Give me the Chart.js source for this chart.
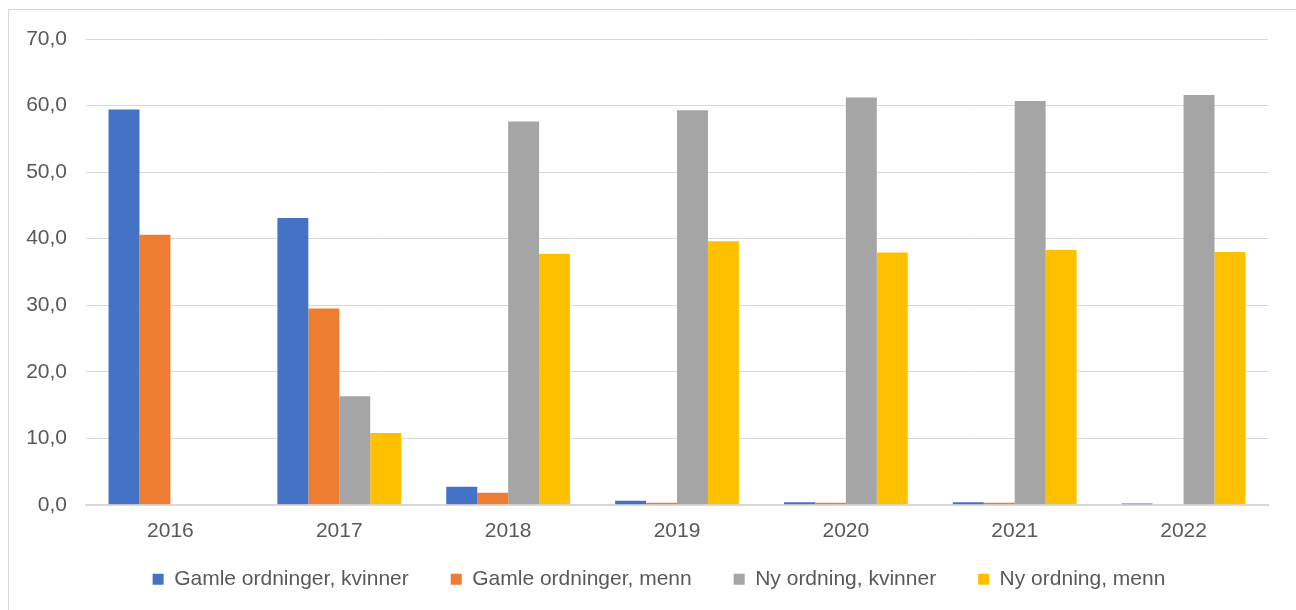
<!DOCTYPE html>
<html>
<head>
<meta charset="utf-8">
<script src="https://cdn.jsdelivr.net/npm/chart.js@4/dist/chart.umd.min.js"></script>
<style>
  html, body { margin: 0; padding: 0; background: #fff; overflow: hidden; }
  #wrap {
    position: absolute; left: 8px; top: 9px;
    width: 1330px; height: 624px;
    border-left: 1px solid #d9d9d9; border-top: 1px solid #d9d9d9;
  }
</style>
</head>
<body>
<div id="wrap"><canvas id="chart"></canvas></div>
<script>
const years = ["2016", "2017", "2018", "2019", "2020", "2021", "2022"];
const gamleKvinner = [59.4, 43.1, 2.7, 0.6, 0.4, 0.4, 0.2];
const gamleMenn = [40.6, 29.5, 1.8, 0.3, 0.3, 0.3, 0.0];
const nyKvinner = [0.0, 16.3, 57.6, 59.3, 61.2, 60.7, 61.6];
const nyMenn = [0.0, 10.8, 37.7, 39.6, 37.9, 38.3, 38.0];

Chart.defaults.font.family = "'Liberation Sans', Arial, sans-serif";
Chart.defaults.font.size = 21;
Chart.defaults.color = "#595959";

// pull the legend up closer to the axis labels (keeps the wide gaps between items)
const legendNudge = {
    id: 'legendNudge',
    afterLayout(chart) {
        const lg = chart.legend;
        const h = lg.height;
        lg.top = chart.chartArea.bottom + 22;
        lg.bottom = lg.top + h;
    }
};

new Chart(document.getElementById("chart"), {
    type: 'bar',
    data: {
        labels: years,
        datasets: [
            { label: "Gamle ordninger, kvinner", data: gamleKvinner, backgroundColor: "#4472C4" },
            { label: "Gamle ordninger, menn", data: gamleMenn, backgroundColor: "#ED7D31" },
            { label: "Ny ordning, kvinner", data: nyKvinner, backgroundColor: "#A5A5A5" },
            { label: "Ny ordning, menn", data: nyMenn, backgroundColor: "#FFC000" }
        ]
    },
    options: {
        responsive: true,
        maintainAspectRatio: false,
        animation: false,
        datasets: { bar: { barPercentage: 1, categoryPercentage: 0.733 } },
        layout: { padding: { left: 0, right: 30, top: 29, bottom: 3 } },
        scales: {
            x: {
                grid: { display: false, drawTicks: false },
                border: { color: "#d9d9d9", width: 2 },
                ticks: { padding: 14 }
            },
            y: {
                min: 0, max: 70,
                ticks: {
                    stepSize: 10, padding: 19,
                    callback: (v) => v.toFixed(1).replace(".", ",")
                },
                grid: { color: "#d9d9d9", drawTicks: false },
                border: { display: false },
                afterFit: (scale) => { scale.width = 77; scale.paddingTop = 0; }
            },
            // empty spacer on the right so the legend sits where it does in the original
            y2: {
                position: 'right',
                grid: { display: false, drawTicks: false },
                ticks: { display: false },
                border: { display: false },
                afterFit: (scale) => { scale.width = 41; }
            }
        },
        plugins: {
            legend: {
                position: 'bottom',
                labels: { boxWidth: 11, boxHeight: 11, padding: 42 }
            },
            tooltip: { enabled: false }
        }
    },
    plugins: [legendNudge]
});
</script>
</body>
</html>
